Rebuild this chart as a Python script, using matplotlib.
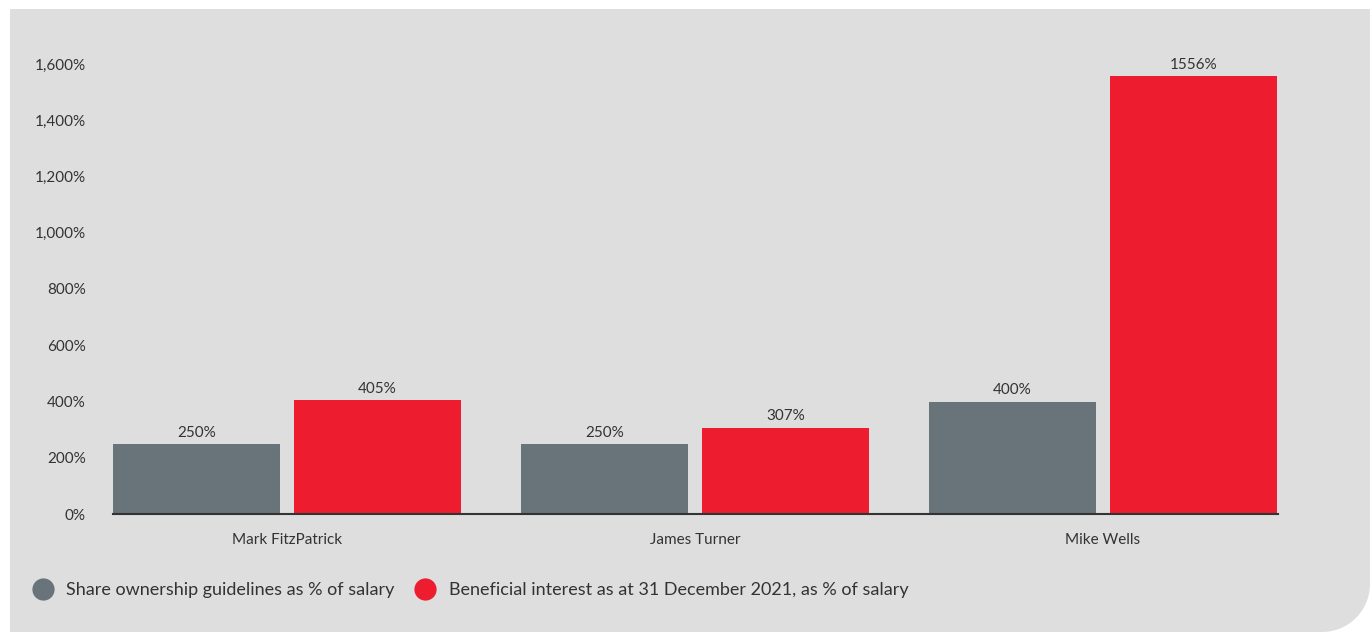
import numpy as np
import matplotlib.pyplot as plt
from matplotlib.path import Path
from matplotlib.patches import PathPatch
from matplotlib.lines import Line2D
from matplotlib.ticker import FuncFormatter

plt.rcParams['font.family'] = ['Lato', 'DejaVu Sans']

# directors and holdings (% of salary)
directors = ['Mark FitzPatrick', 'James Turner', 'Mike Wells']
guideline = [250, 250, 400]
beneficial = [405, 307, 1556]
series_names = ['Share ownership guidelines as % of salary',
                'Beneficial interest as at 31 December 2021, as % of salary']

W, H = 1372, 632
GREY = '#68737a'
RED = '#ed1c2e'
PANEL = '#dedede'
TXT = '#333333'

fig = plt.figure(figsize=(W / 100, H / 100), dpi=100)
fig.patch.set_facecolor('white')

# panel with rounded bottom-right corner (pixel units -> figure fraction)
r = 48
ang = np.linspace(0, np.pi / 2, 20)
pts = [(10, 9), (1370, 9), (1370, H - r)]
pts += [(1370 - r + r * np.cos(a), H - r + r * np.sin(a)) for a in ang]
pts += [(10, H), (10, 9)]
verts = [(x / W, 1 - y / H) for x, y in pts]
codes = [Path.MOVETO] + [Path.LINETO] * (len(verts) - 2) + [Path.CLOSEPOLY]
fig.patches.append(PathPatch(Path(verts, codes), transform=fig.transFigure,
                             facecolor=PANEL, edgecolor='none', zorder=-1))

ax = fig.add_axes([113 / W, 118 / H, (1278 - 113) / W, 450 / H])
ax.set_facecolor('none')

x = np.arange(len(directors))
bw = 167 / 408
off = (167 + 14) / 2 / 408
b1 = ax.bar(x - off, guideline, bw, color=GREY)
b2 = ax.bar(x + off, beneficial, bw, color=RED)
for bars in (b1, b2):
    ax.bar_label(bars, fmt='%d%%', padding=3, fontsize=11, color=TXT)

ax.set_xlim(-0.4265, 2.4289)
ax.set_ylim(0, 1600)
ax.set_yticks(np.arange(0, 1601, 200))
ax.yaxis.set_major_formatter(FuncFormatter(lambda v, p: f'{v:,.0f}%'))
ax.set_xticks(x)
ax.set_xticklabels(directors)
ax.tick_params(axis='y', length=0, pad=19.5, labelsize=11, labelcolor=TXT)
ax.tick_params(axis='x', length=0, pad=14, labelsize=11, labelcolor=TXT)

for s in ['top', 'right', 'left']:
    ax.spines[s].set_visible(False)
ax.spines['bottom'].set_color(TXT)
ax.spines['bottom'].set_linewidth(1.5)

handles = [Line2D([], [], marker='o', linestyle='none', markersize=16,
                  markerfacecolor=c, markeredgecolor='none') for c in (GREY, RED)]
fig.legend(handles, series_names, loc='center left',
           bbox_to_anchor=(32 / W, 1 - 590 / H), ncol=2, frameon=False,
           fontsize=13, labelcolor=TXT, handletextpad=0.7,
           columnspacing=1.1, handlelength=1.2, borderaxespad=0, borderpad=0)

fig.savefig('out.png', dpi=100)
